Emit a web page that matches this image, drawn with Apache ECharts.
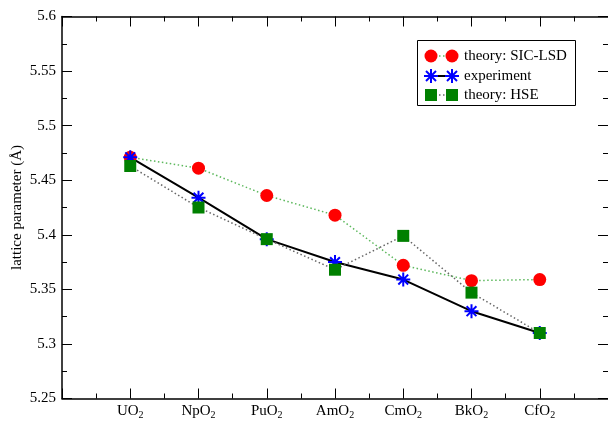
<!DOCTYPE html>
<html>
<head>
<meta charset="utf-8">
<script src="https://cdn.jsdelivr.net/npm/echarts@6/dist/echarts.min.js"></script>
<style>html,body{margin:0;padding:0;background:#fff}#c{width:608px;height:422px}</style>
</head>
<body>
<div id="c"></div>
<script>
var categories = [['UO','2'],['NpO','2'],['PuO','2'],['AmO','2'],['CmO','2'],['BkO','2'],['CfO','2']];
var sicLsd     = [5.471, 5.461, 5.436, 5.418, 5.372, 5.358, 5.359];
var experiment = [5.471, 5.434, 5.396, 5.375, 5.359, 5.330, 5.310];
var hse        = [5.463, 5.425, 5.396, 5.368, 5.399, 5.347, 5.310];
var yTicks = {min: 5.25, max: 5.6, step: 0.05};
var legendNames = ['theory: SIC-LSD', 'experiment', 'theory: HSE'];

var FONT = 'Liberation Serif';
var FS = 15;
var STAR = 'path://M10,0L10,20M0,10L20,10M3,3L17,17M3,17L17,3';

function pts(arr){ return arr.map(function(v,i){ return [i+1, v]; }); }

var axisLine = {show:true, onZero:false, lineStyle:{color:'#000', width:1.5}};
var tick = {show:true, inside:true, length:10, lineStyle:{color:'#000', width:1}};
var minor = {show:true, splitNumber:2, length:5, lineStyle:{color:'#000', width:1}};

function starLines(cx, cy){
  var r = 7, d = 5;
  var segs = [[0,-r,0,r],[-r,0,r,0],[-d,-d,d,d],[-d,d,d,-d]];
  return segs.map(function(s){
    return {type:'line', shape:{x1:cx+s[0], y1:cy+s[1], x2:cx+s[2], y2:cy+s[3]},
      style:{stroke:'#0000ff', lineWidth:2}, z:102};
  });
}
var LF = FS + 'px "Liberation Serif"';
var graphics = [
  {type:'rect', shape:{x:417.5, y:40.5, width:158, height:65}, style:{fill:'#fff', stroke:'#000', lineWidth:1}, z:100},
  {type:'line', shape:{x1:431, y1:56, x2:452, y2:56}, style:{stroke:'#5cb85c', lineWidth:1.5, lineDash:[1.5,2.5]}, z:101},
  {type:'circle', shape:{cx:431, cy:56, r:6.5}, style:{fill:'#ff0000'}, z:102},
  {type:'circle', shape:{cx:452, cy:56, r:6.5}, style:{fill:'#ff0000'}, z:102},
  {type:'text', x:464, y:56, style:{text:legendNames[0], font:LF, fill:'#000', verticalAlign:'middle'}, z:102},
  {type:'line', shape:{x1:431, y1:76, x2:452, y2:76}, style:{stroke:'#000', lineWidth:2}, z:101},
  {type:'text', x:464, y:76, style:{text:legendNames[1], font:LF, fill:'#000', verticalAlign:'middle'}, z:102},
  {type:'line', shape:{x1:431, y1:95, x2:452, y2:95}, style:{stroke:'#666', lineWidth:1.5, lineDash:[1.5,2.5]}, z:101},
  {type:'rect', shape:{x:425, y:89, width:12, height:12}, style:{fill:'#008000'}, z:102},
  {type:'rect', shape:{x:446, y:89, width:12, height:12}, style:{fill:'#008000'}, z:102},
  {type:'text', x:464, y:95, style:{text:legendNames[2], font:LF, fill:'#000', verticalAlign:'middle'}, z:102}
].concat(starLines(431,76)).concat(starLines(452,76));

var chart = echarts.init(document.getElementById('c'), null, {renderer:'canvas'});
var option = {
  animation:false,
  backgroundColor:'#fff',
  grid:{left:62, top:16.5, right:0, bottom:23.5, containLabel:false, outerBoundsMode:'none'},
  xAxis:[{
    type:'value', min:0, max:8, interval:1, position:'bottom',
    axisLine:axisLine, axisTick:tick, minorTick:minor, splitLine:{show:false},
    axisLabel:{
      margin:4, color:'#000', fontFamily:FONT, fontSize:FS,
      formatter:function(v){ var c = categories[v-1]; return c ? '{a|'+c[0]+'}{s|'+c[1]+'}' : ''; },
      rich:{a:{fontFamily:FONT, fontSize:FS, color:'#000'}, s:{fontFamily:FONT, fontSize:10, color:'#000', padding:[8,0,0,0]}}
    }
  },{
    type:'value', min:0, max:8, interval:1, position:'top',
    axisLine:axisLine, axisTick:tick, minorTick:minor, splitLine:{show:false}, axisLabel:{show:false}
  }],
  yAxis:[{
    type:'value', min:yTicks.min, max:yTicks.max, interval:yTicks.step, position:'left',
    name:'lattice parameter (Å)', nameLocation:'middle', nameGap:37, nameMoveOverlap:false,
    nameTextStyle:{fontFamily:FONT, fontSize:FS, color:'#000'},
    axisLine:axisLine, axisTick:tick, minorTick:minor, splitLine:{show:false},
    axisLabel:{margin:6, color:'#000', fontFamily:FONT, fontSize:FS,
      formatter:function(v){ return String(+v.toFixed(2)); }}
  },{
    type:'value', min:yTicks.min, max:yTicks.max, interval:yTicks.step, position:'right',
    axisLine:{show:false, onZero:false}, axisTick:tick, minorTick:minor, splitLine:{show:false}, axisLabel:{show:false}
  }],
  series:[{
    name:legendNames[0], type:'line', data:pts(sicLsd),
    symbol:'circle', symbolSize:13, itemStyle:{color:'#ff0000'},
    lineStyle:{color:'#5cb85c', width:1.5, type:[1.5,2.5]}
  },{
    name:legendNames[1], type:'line', data:pts(experiment),
    symbol:STAR, symbolSize:14, itemStyle:{color:'none', borderColor:'#0000ff', borderWidth:2},
    lineStyle:{color:'#000', width:2}
  },{
    name:legendNames[2], type:'line', data:pts(hse),
    symbol:'rect', symbolSize:12, itemStyle:{color:'#008000'},
    lineStyle:{color:'#666', width:1.5, type:[1.5,2.5]}
  }],
  graphic:graphics
};
chart.setOption(option);
</script>
</body>
</html>
